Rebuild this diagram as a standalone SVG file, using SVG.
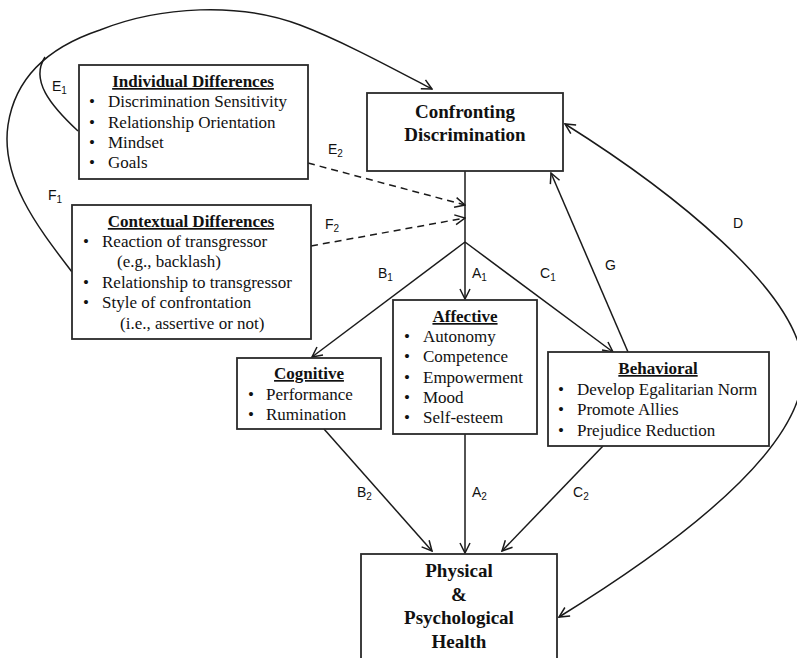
<svg xmlns="http://www.w3.org/2000/svg" width="797" height="658" viewBox="0 0 797 658">
<defs>
<style>
.box{fill:#fff;stroke:#2a2a2a;stroke-width:1.8}
.ln{fill:none;stroke:#1a1a1a;stroke-width:1.5}
.dash{stroke-dasharray:7,5}
.t{font-family:"Liberation Serif","Times New Roman",serif;font-size:17px;fill:#111;white-space:pre}
.h{font-family:"Liberation Serif","Times New Roman",serif;font-size:17px;font-weight:bold;text-decoration:underline;fill:#111;text-anchor:middle}
.big{font-family:"Liberation Serif","Times New Roman",serif;font-size:19px;font-weight:bold;fill:#111;text-anchor:middle}
.lb{font-family:"Liberation Sans",Arial,sans-serif;font-size:14px;fill:#111}
.sub{font-size:10px}
</style>
<marker id="ah" viewBox="0 0 12 12" refX="11" refY="6" markerWidth="12" markerHeight="12" markerUnits="userSpaceOnUse" orient="auto-start-reverse">
<path d="M1,1 L11,6 L1,11" fill="none" stroke="#1a1a1a" stroke-width="1.5"/>
</marker>
</defs>
<rect width="797" height="658" fill="#fff"/>

<g id="connectors">
<path class="ln" d="M72,272 C40,230 0,180 8,125 C14,85 40,50 100,30 C160,6 240,2 300,25 C340,40 390,67 432,89" marker-end="url(#ah)"/>
<path class="ln" d="M78,131 C50,105 30,80 45,57"/>
<path class="ln dash" d="M308,163 L465,205" marker-end="url(#ah)"/>
<path class="ln dash" d="M311,246 L465,218" marker-end="url(#ah)"/>
<path class="ln" d="M465,171 L465,242"/>
<path class="ln" d="M465,242 L465,299" marker-end="url(#ah)"/>
<path class="ln" d="M465,242 L312,357" marker-end="url(#ah)"/>
<path class="ln" d="M465,242 L613,352" marker-end="url(#ah)"/>
<path class="ln" d="M628,352 L551,173" marker-end="url(#ah)"/>
<path class="ln" d="M559,617 C700,530 808,440 803,365 C798,290 670,190 565,124" marker-start="url(#ah)" marker-end="url(#ah)"/>
<path class="ln" d="M324,429 L432,551" marker-end="url(#ah)"/>
<path class="ln" d="M465,434 L465,553" marker-end="url(#ah)"/>
<path class="ln" d="M603,446 L502,551" marker-end="url(#ah)"/>
<text class="lb" x="52" y="91">E<tspan class="sub" dy="3">1</tspan></text>
<text class="lb" x="48" y="200">F<tspan class="sub" dy="3">1</tspan></text>
<text class="lb" x="328" y="154">E<tspan class="sub" dy="3">2</tspan></text>
<text class="lb" x="325" y="229">F<tspan class="sub" dy="3">2</tspan></text>
<text class="lb" x="378" y="278">B<tspan class="sub" dy="3">1</tspan></text>
<text class="lb" x="472" y="278">A<tspan class="sub" dy="3">1</tspan></text>
<text class="lb" x="540" y="278">C<tspan class="sub" dy="3">1</tspan></text>
<text class="lb" x="605" y="270">G</text>
<text class="lb" x="733" y="228">D</text>
<text class="lb" x="357" y="497">B<tspan class="sub" dy="3">2</tspan></text>
<text class="lb" x="472" y="497">A<tspan class="sub" dy="3">2</tspan></text>
<text class="lb" x="573" y="497">C<tspan class="sub" dy="3">2</tspan></text>
</g>

<g id="individual">
<rect class="box" x="79" y="65" width="229" height="114"/>
<text class="h" x="193" y="87">Individual Differences</text>
<text class="t" x="89" y="107">•</text><text class="t" x="108" y="107">Discrimination Sensitivity</text>
<text class="t" x="89" y="128">•</text><text class="t" x="108" y="128">Relationship Orientation</text>
<text class="t" x="89" y="148">•</text><text class="t" x="108" y="148">Mindset</text>
<text class="t" x="89" y="168">•</text><text class="t" x="108" y="168">Goals</text>
</g>

<g id="contextual">
<rect class="box" x="72" y="205" width="239" height="134"/>
<text class="h" x="191" y="227">Contextual Differences</text>
<text class="t" x="83" y="247">•</text><text class="t" x="102" y="247">Reaction of transgressor</text>
<text class="t" x="117" y="267">(e.g., backlash)</text>
<text class="t" x="83" y="288">•</text><text class="t" x="102" y="288">Relationship to transgressor</text>
<text class="t" x="83" y="308">•</text><text class="t" x="102" y="308">Style of confrontation</text>
<text class="t" x="120" y="329">(i.e., assertive or not)</text>
</g>

<g id="confronting">
<rect class="box" x="367" y="93" width="196" height="78"/>
<text class="big" x="465" y="118">Confronting</text>
<text class="big" x="465" y="141">Discrimination</text>
</g>

<g id="cognitive">
<rect class="box" x="237" y="358" width="144" height="71"/>
<text class="h" x="309" y="379">Cognitive</text>
<text class="t" x="248" y="400">•</text><text class="t" x="266" y="400">Performance</text>
<text class="t" x="248" y="420">•</text><text class="t" x="266" y="420">Rumination</text>
</g>

<g id="affective">
<rect class="box" x="393" y="300" width="144" height="134"/>
<text class="h" x="465" y="322">Affective</text>
<text class="t" x="404" y="342">•</text><text class="t" x="423" y="342">Autonomy</text>
<text class="t" x="404" y="362">•</text><text class="t" x="423" y="362">Competence</text>
<text class="t" x="404" y="383">•</text><text class="t" x="423" y="383">Empowerment</text>
<text class="t" x="404" y="403">•</text><text class="t" x="423" y="403">Mood</text>
<text class="t" x="404" y="423">•</text><text class="t" x="423" y="423">Self-esteem</text>
</g>

<g id="behavioral">
<rect class="box" x="548" y="352" width="221" height="94"/>
<text class="h" x="658" y="374">Behavioral</text>
<text class="t" x="558" y="395">•</text><text class="t" x="577" y="395">Develop Egalitarian Norm</text>
<text class="t" x="558" y="415">•</text><text class="t" x="577" y="415">Promote Allies</text>
<text class="t" x="558" y="436">•</text><text class="t" x="577" y="436">Prejudice Reduction</text>
</g>

<g id="health">
<rect class="box" x="361" y="554" width="196" height="120"/>
<text class="big" x="459" y="577">Physical</text>
<text class="big" x="459" y="601">&amp;</text>
<text class="big" x="459" y="624">Psychological</text>
<text class="big" x="459" y="648">Health</text>
</g>
</svg>
